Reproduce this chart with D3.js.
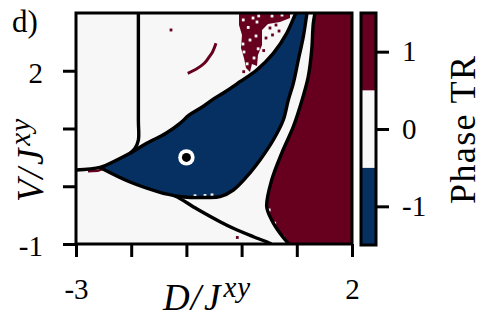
<!DOCTYPE html>
<html>
<head>
<meta charset="utf-8">
<script src="https://cdn.jsdelivr.net/npm/d3@7"></script>
<style>
  body { margin: 0; background: #fff; }
  svg { display: block; }
  text { font-family: "Liberation Serif", serif; fill: #000; }
</style>
</head>
<body>
<svg id="chart"></svg>
<script>
// axis ticks and labels
const xTicks = [-3, -2, -1, 0, 1, 2];
const xLabelled = [-3, 2];
const yTicks = [-1, 0, 1, 2];
const yLabelled = [2, -1];
const phases = [-1, 0, 1];
const phaseColors = ["#053061", "#f7f7f7", "#67001f"];

// phase boundaries (D, V)
const curveA = [[-1.87, 3.0], [-1.87, 1.15], [-1.87, 0.80], [-1.93, 0.66], [-2.02, 0.57]];
const curveB = [[-3, 0.281], [-2.565, 0.325], [-2.324, 0.425], [-2.022, 0.571], [-1.719, 0.744],
  [-1.370, 0.917], [-1.116, 1.090], [-0.947, 1.234], [-0.705, 1.377], [-0.464, 1.540],
  [-0.295, 1.637], [-0.029, 1.810], [0.274, 2.013], [0.574, 2.302], [0.817, 2.648],
  [0.967, 2.965], [0.986, 3.0]];
const curveD = [[-2.565, 0.325], [-2.022, 0.074], [-1.418, -0.122], [-1.207, -0.169],
  [-0.808, -0.394], [-0.391, -0.614], [-0.150, -0.728], [0.212, -0.874], [0.514, -0.988], [0.53, -1]];
const curveE = [[-1.207, -0.169], [-0.935, -0.195], [-0.663, -0.195], [-0.391, -0.181],
  [-0.150, -0.065], [0.092, 0.165], [0.333, 0.455], [0.574, 0.801], [0.755, 1.147],
  [0.846, 1.494], [0.937, 1.783], [1.027, 2.186], [1.118, 2.590], [1.179, 2.965], [1.185, 3.0]];
const curveF = [[1.330, 3.0], [1.299, 2.822], [1.270, 2.359], [1.208, 1.897], [1.085, 1.459],
  [0.937, 1.031], [0.726, 0.571], [0.545, 0.108], [0.455, -0.354], [0.545, -0.584],
  [0.696, -0.815], [0.846, -0.988], [0.859, -1]];

// scattered TR=1 patches inside the TR=0 area
const redBlob = [[-0.047, 3.0], [0.877, 3.0], [0.877, 2.913], [0.696, 2.844], [0.478, 2.810],
  [0.370, 2.706], [0.370, 2.446], [0.297, 2.273], [0.279, 2.082], [0.188, 2.117],
  [0.152, 1.978], [0.080, 2.048], [0.043, 2.221], [-0.011, 2.394], [0.007, 2.619], [-0.047, 2.792]];
const redStreak = [[-0.976, 1.956], [-0.826, 2.025], [-0.676, 2.129], [-0.585, 2.243], [-0.524, 2.330], [-0.464, 2.475]];
const redSliver = [[-2.783, 0.281], [-2.601, 0.290], [-2.384, 0.351], [-2.167, 0.437], [-2.094, 0.446],
  [-2.239, 0.368], [-2.475, 0.290], [-2.601, 0.247], [-2.783, 0.238]];
const redCells = [[0.514, 2.740], [0.623, 2.792], [0.678, 2.688], [0.442, 2.567], [0.038, 1.984],
  [0.333, 2.048], [-1.279, 2.706], [-0.078, -0.887], [0.56, 2.62], [0.70, 2.90], [0.40, 2.35]];
const whiteCells = [[0.207, 2.913], [0.279, 2.844], [0.261, 2.602], [0.025, 2.463], [0.043, 2.325],
  [0.152, 2.532], [0.225, 2.221], [0.551, 2.948], [0.732, 2.965], [0.12, 2.75], [0.31, 2.95],
  [0.10, 2.12], [0.30, 2.38], [0.03, 2.88],
  [-0.844, -0.165], [-0.663, -0.160], [-0.536, -0.150],
  [0.50, -0.411], [0.60, -0.640], [0.75, -0.880]];
const marker = [-1, 0.5];
const cell = 0.05;

const width = 500, height = 336;
const svg = d3.select("#chart").attr("width", width).attr("height", height);

const x = d3.scaleLinear().domain([-3, 2]).range([76, 352]);
const y = d3.scaleLinear().domain([-1, 3]).range([244, 13]);

svg.append("clipPath").attr("id", "plot")
  .append("rect").attr("x", 76).attr("y", 13).attr("width", 276).attr("height", 231);

const g = svg.append("g").attr("clip-path", "url(#plot)");
const smooth = d3.line().x(d => x(d[0])).y(d => y(d[1])).curve(d3.curveCatmullRom.alpha(0.5));
const straight = d3.line().x(d => x(d[0])).y(d => y(d[1]));

g.append("rect").attr("x", 76).attr("y", 13).attr("width", 276).attr("height", 231).attr("fill", phaseColors[1]);

g.append("path").attr("d", straight(redBlob) + "Z").attr("fill", phaseColors[2]);
g.append("path").attr("d", straight(redSliver) + "Z").attr("fill", phaseColors[2]);
g.append("path").attr("d", smooth(redStreak)).attr("fill", "none")
  .attr("stroke", phaseColors[2]).attr("stroke-width", 3);

const bluePoly = curveB.slice(1).concat(curveE.slice().reverse(), curveD.slice(1, 4).reverse());
g.append("path").attr("d", smooth(bluePoly) + "Z").attr("fill", phaseColors[0]);

g.append("path").attr("d", smooth(curveF) + `L${x(2.1)},${y(-1.1)}L${x(2.1)},${y(3.1)}Z`).attr("fill", phaseColors[2]);

const cellRect = (sel, data, color) => sel.selectAll(null).data(data).enter().append("rect")
  .attr("x", d => x(d[0] - cell / 2)).attr("y", d => y(d[1] + cell / 2))
  .attr("width", x(cell) - x(0)).attr("height", y(0) - y(cell))
  .attr("fill", color);
cellRect(g, redCells, phaseColors[2]);
cellRect(g, whiteCells, phaseColors[1]);

[curveA, curveB, curveD, curveE, curveF].forEach(c => {
  g.append("path").attr("d", smooth(c)).attr("fill", "none")
    .attr("stroke", "#000").attr("stroke-width", 3.4).attr("stroke-linejoin", "round");
});

g.append("circle").attr("cx", x(marker[0])).attr("cy", y(marker[1])).attr("r", 8.2).attr("fill", "#fff");
g.append("circle").attr("cx", x(marker[0])).attr("cy", y(marker[1])).attr("r", 4.5).attr("fill", "#000");

svg.append("rect").attr("x", 76).attr("y", 13).attr("width", 276).attr("height", 231)
  .attr("fill", "none").attr("stroke", "#000").attr("stroke-width", 3);

// axes
const xAxis = svg.append("g").attr("transform", "translate(0,244)")
  .call(d3.axisBottom(x).tickValues(xTicks).tickSize(13).tickPadding(21)
    .tickFormat(d => xLabelled.includes(d) ? String(d) : ""));
const yAxis = svg.append("g").attr("transform", "translate(76,0)")
  .call(d3.axisLeft(y).tickValues(yTicks).tickSize(13).tickPadding(20)
    .tickFormat(d => yLabelled.includes(d) ? String(d) : ""));
[xAxis, yAxis].forEach(a => {
  a.select(".domain").remove();
  a.selectAll(".tick line").attr("stroke", "#000").attr("stroke-width", 3);
  a.selectAll(".tick text").attr("font-size", 29).attr("font-family", "Liberation Serif").attr("fill", "#000");
});
yAxis.selectAll(".tick text").attr("dy", "0.4em");

// colorbar
const cb = d3.scaleLinear().domain([-1.5, 1.5]).range([245, 13]);
svg.selectAll(".cbseg").data(phases).enter().append("rect")
  .attr("x", 361).attr("width", 15)
  .attr("y", d => cb(d + 0.5)).attr("height", d => cb(d - 0.5) - cb(d + 0.5))
  .attr("fill", (d, i) => phaseColors[i]);
svg.append("rect").attr("x", 361).attr("y", 13).attr("width", 15).attr("height", 232)
  .attr("fill", "none").attr("stroke", "#000").attr("stroke-width", 3);
const cAxis = svg.append("g").attr("transform", "translate(376,0)")
  .call(d3.axisRight(cb).tickValues(phases).tickSize(13).tickPadding(13).tickFormat(d => String(d)));
cAxis.select(".domain").remove();
cAxis.selectAll(".tick line").attr("stroke", "#000").attr("stroke-width", 3);
cAxis.selectAll(".tick text").attr("font-size", 29).attr("font-family", "Liberation Serif").attr("fill", "#000");

// labels
svg.append("text").attr("x", 12).attr("y", 32).attr("font-size", 31).text("d)");

const axisLabel = (sel, letter) => {
  sel.attr("font-size", 37).attr("font-style", "italic");
  sel.append("tspan").text(letter);
  sel.append("tspan").attr("dx", 1).text("/");
  sel.append("tspan").attr("dx", 3).text("J");
  sel.append("tspan").attr("dx", 3).attr("dy", -13).attr("font-size", 29)
    .attr("letter-spacing", 1).text("xy");
};
axisLabel(svg.append("text").attr("x", 163).attr("y", 310), "D");
axisLabel(svg.append("text").attr("transform", "translate(43,202) rotate(-90)"), "V");

svg.append("text").attr("transform", "translate(475,130) rotate(-90)")
  .attr("text-anchor", "middle").attr("font-size", 36)
  .attr("textLength", 148).attr("lengthAdjust", "spacing").text("Phase TR");
</script>
</body>
</html>
